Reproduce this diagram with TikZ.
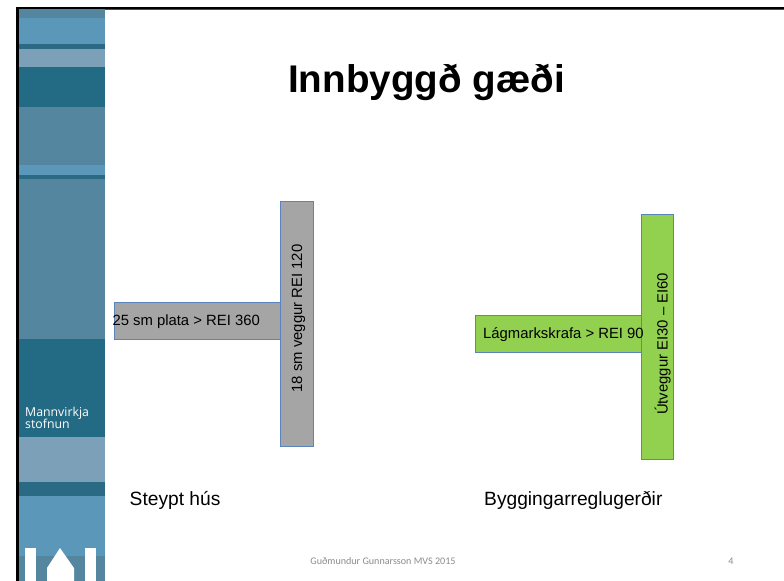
\documentclass[tikz,border=0pt]{standalone}
\usepackage{fontspec}
\setmainfont{Liberation Sans}
\newfontfamily\footfont{Carlito}
\newfontfamily\logofont{Open Sans}
\definecolor{bandmid}{HTML}{55869F}
\definecolor{bandlight}{HTML}{5B97B8}
\definecolor{bandgray}{HTML}{7BA0B8}
\definecolor{bandteal}{HTML}{236A84}
\definecolor{bandedge}{HTML}{2A6A85}
\definecolor{boxline}{HTML}{5B84BE}
\definecolor{greyfill}{HTML}{A5A5A5}
\definecolor{greenfill}{HTML}{92D050}
\definecolor{foot}{HTML}{8C8C8C}
\tikzset{
  x=1bp,y=-1bp,
  slabbox/.style={draw=boxline,line width=0.9bp,anchor=north west,inner sep=0pt,outer sep=0pt},
  body/.style={font=\fontsize{14.85bp}{16bp}\selectfont,text=black,inner sep=0pt},
  caption/.style={font=\fontsize{19.2bp}{21bp}\selectfont,text=black,inner sep=0pt,anchor=base west},
  foottext/.style={font=\footfont\fontsize{10.1bp}{12bp}\selectfont,text=foot,inner sep=0pt},
  logotext/.style={font=\logofont\fontsize{12.3bp}{13bp}\selectfont,text=white,inner sep=0pt,anchor=base west}
}
\newcommand{\band}[3]{\fill[#3] (19,#1) rectangle (105,#2);}
\begin{document}
\begin{tikzpicture}
\useasboundingbox (0,0) rectangle (784,581);
\fill[white] (0,0) rectangle (784,581);
% sidebar bands
\band{9}{18}{bandmid}
\band{18}{44}{bandlight}
\band{44}{49}{bandedge}
\band{49}{67}{bandgray}
\band{67}{107}{bandteal}
\band{107}{165}{bandmid}
\band{165}{175}{bandlight}
\band{175}{179}{bandedge}
\band{179}{339}{bandmid}
\band{339}{437}{bandteal}
\band{437}{482}{bandgray}
\band{482}{496}{bandedge}
\band{496}{556}{bandlight}
\band{556}{581}{bandmid}
% logo buildings
\fill[white] (25,548) rectangle (36,581);
\fill[white] (84.5,548) rectangle (96,581);
\fill[white] (60,548) -- (74,568) -- (74,581) -- (47,581) -- (47,568) -- cycle;
\node[logotext] (logoa) at (25,416.5) {Mannvirkja};
\node[logotext] (logob) at (25,428) {stofnun};
% frame
\fill[black] (16,7) rectangle (784,9.2);
\fill[black!70] (105,9.2) rectangle (784,9.8);
\fill[black] (16,7) rectangle (19,581);
% title
\node[font=\bfseries\fontsize{38.6bp}{42bp}\selectfont,inner sep=0pt,anchor=base] (title) at (426.5,93) {Innbyggð gæði};
% left T
\node[slabbox,fill=greyfill,minimum width=165.5bp,minimum height=37bp] (slabL) at (114.5,302) {};
\node[slabbox,fill=greyfill,minimum width=33bp,minimum height=245bp] (wallL) at (280,201) {};
\node[body,anchor=base west] (slabLt) at (112.3,325) {25 sm plata > REI 360};
\node[body,rotate=90,anchor=base] (wallLt) at (302,318.5) {18 sm veggur REI 120};
% right T
\node[slabbox,fill=greenfill,minimum width=166bp,minimum height=37bp] (slabR) at (475,315) {};
\node[slabbox,fill=greenfill,minimum width=32bp,minimum height=245bp] (wallR) at (641,214) {};
\node[body,anchor=base west] (slabRt) at (483,338) {Lágmarkskrafa > REI 90};
\node[body,rotate=90,anchor=base] (wallRt) at (667.5,344) {Útveggur EI30 – EI60};
% captions
\node[caption] (capL) at (129.5,505.5) {Steypt hús};
\node[caption] (capR) at (484,505.5) {Byggingarreglugerðir};
% footer
\node[foottext,anchor=base] (footer) at (383,564.5) {Guðmundur Gunnarsson MVS 2015};
\node[foottext,anchor=base] (page) at (731,564.5) {4};
\end{tikzpicture}
\end{document}
